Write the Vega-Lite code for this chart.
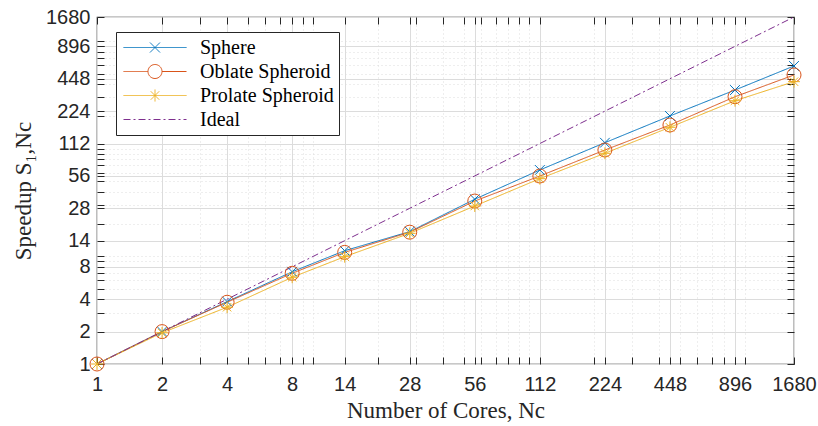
{
  "$schema": "https://vega.github.io/schema/vega-lite/v6.json",
  "width": 697,
  "height": 347,
  "autosize": {"type": "none"},
  "padding": {"left": 97, "top": 17, "right": 24, "bottom": 62},
  "background": "white",
  "config": {
    "view": {"stroke": "#262626", "strokeWidth": 1.2},
    "axis": {
      "labelFont": "Liberation Sans",
      "labelFontSize": 20,
      "labelColor": "#262626",
      "titleFont": "Liberation Serif",
      "titleFontSize": 23,
      "titleFontWeight": "normal",
      "titleColor": "#262626",
      "domain": false,
      "tickColor": "#262626",
      "labelOverlap": false,
      "labelFlush": false,
      "labelBound": false
    }
  },
  "datasets": {
    "speed": [
      {"n": 1, "s": 1, "series": "Sphere"},
      {"n": 2, "s": 2.0, "series": "Sphere"},
      {"n": 4, "s": 3.8, "series": "Sphere"},
      {"n": 8, "s": 7.2, "series": "Sphere"},
      {"n": 14, "s": 11.3, "series": "Sphere"},
      {"n": 28, "s": 17.0, "series": "Sphere"},
      {"n": 56, "s": 34.0, "series": "Sphere"},
      {"n": 112, "s": 63.6, "series": "Sphere"},
      {"n": 224, "s": 114, "series": "Sphere"},
      {"n": 448, "s": 202, "series": "Sphere"},
      {"n": 896, "s": 352, "series": "Sphere"},
      {"n": 1680, "s": 589, "series": "Sphere"},
      {"n": 1, "s": 1, "series": "Oblate Spheroid"},
      {"n": 2, "s": 2.0, "series": "Oblate Spheroid"},
      {"n": 4, "s": 3.75, "series": "Oblate Spheroid"},
      {"n": 8, "s": 6.97, "series": "Oblate Spheroid"},
      {"n": 14, "s": 10.9, "series": "Oblate Spheroid"},
      {"n": 28, "s": 16.8, "series": "Oblate Spheroid"},
      {"n": 56, "s": 32.7, "series": "Oblate Spheroid"},
      {"n": 112, "s": 55.9, "series": "Oblate Spheroid"},
      {"n": 224, "s": 97.5, "series": "Oblate Spheroid"},
      {"n": 448, "s": 166.5, "series": "Oblate Spheroid"},
      {"n": 896, "s": 305, "series": "Oblate Spheroid"},
      {"n": 1680, "s": 486, "series": "Oblate Spheroid"},
      {"n": 1, "s": 1, "series": "Prolate Spheroid"},
      {"n": 2, "s": 1.95, "series": "Prolate Spheroid"},
      {"n": 4, "s": 3.37, "series": "Prolate Spheroid"},
      {"n": 8, "s": 6.4, "series": "Prolate Spheroid"},
      {"n": 14, "s": 9.94, "series": "Prolate Spheroid"},
      {"n": 28, "s": 16.4, "series": "Prolate Spheroid"},
      {"n": 56, "s": 29.4, "series": "Prolate Spheroid"},
      {"n": 112, "s": 52.8, "series": "Prolate Spheroid"},
      {"n": 224, "s": 90.9, "series": "Prolate Spheroid"},
      {"n": 448, "s": 158.6, "series": "Prolate Spheroid"},
      {"n": 896, "s": 280, "series": "Prolate Spheroid"},
      {"n": 1680, "s": 421, "series": "Prolate Spheroid"},
      {"n": 1, "s": 1, "series": "Ideal"},
      {"n": 2, "s": 2, "series": "Ideal"},
      {"n": 4, "s": 4, "series": "Ideal"},
      {"n": 8, "s": 8, "series": "Ideal"},
      {"n": 14, "s": 14, "series": "Ideal"},
      {"n": 28, "s": 28, "series": "Ideal"},
      {"n": 56, "s": 56, "series": "Ideal"},
      {"n": 112, "s": 112, "series": "Ideal"},
      {"n": 224, "s": 224, "series": "Ideal"},
      {"n": 448, "s": 448, "series": "Ideal"},
      {"n": 896, "s": 896, "series": "Ideal"},
      {"n": 1680, "s": 1680, "series": "Ideal"}
    ]
  },
  "data": {"name": "speed"},
  "resolve": {
    "axis": {"x": "independent", "y": "independent"},
    "legend": {"color": "independent", "shape": "independent", "strokeDash": "independent"}
  },
  "layer": [
    {
      "mark": {"type": "line", "strokeWidth": 1, "clip": false},
      "encoding": {
        "x": {
          "field": "n", "type": "quantitative",
          "scale": {"type": "log", "domain": [1, 1680], "nice": false},
          "axis": {
            "title": "Number of Cores, Nc",
            "values": [1,2,3,4,5,6,7,8,9,10,14,20,28,30,40,50,56,60,70,80,90,100,112,200,224,300,400,448,500,600,700,800,896,900,1000,1680],
            "labelExpr": "indexof([1,2,4,8,14,28,56,112,224,448,896,1680], datum.value) >= 0 ? toString(datum.value) : ''",
            "tickSize": -7,
            "labelPadding": 17,
            "titlePadding": 5,
            "gridColor": "#dcdcdc",
            "gridWidth": 1,
            "gridDash": {"condition": {"test": "indexof([1,2,4,8,14,28,56,112,224,448,896,1680], datum.value) < 0", "value": [1, 3]}, "value": []}
          }
        },
        "y": {
          "field": "s", "type": "quantitative",
          "scale": {"type": "log", "domain": [1, 1680], "nice": false},
          "axis": {
            "title": "Speedup S₁,Nc",
            "values": [1,2,3,4,5,6,7,8,9,10,14,20,28,30,40,50,56,60,70,80,90,100,112,200,224,300,400,448,500,600,700,800,896,900,1000,1680],
            "labelExpr": "indexof([1,2,4,8,14,28,56,112,224,448,896,1680], datum.value) >= 0 ? toString(datum.value) : ''",
            "tickSize": -7,
            "labelPadding": 14,
            "titlePadding": 10,
            "gridColor": "#dcdcdc",
            "gridWidth": 1,
            "gridDash": {"condition": {"test": "indexof([1,2,4,8,14,28,56,112,224,448,896,1680], datum.value) < 0", "value": [1, 3]}, "value": []}
          }
        },
        "color": {
          "field": "series", "type": "nominal",
          "scale": {"domain": ["Sphere", "Oblate Spheroid", "Prolate Spheroid", "Ideal"], "range": ["#0072BD", "#D95319", "#EDB120", "#7E2F8E"]},
          "legend": {
            "title": null,
            "orient": "none",
            "legendX": 19,
            "legendY": 15,
            "direction": "vertical",
            "fillColor": "white",
            "strokeColor": "#262626",
            "padding": 5,
            "rowPadding": 3,
            "symbolSize": 400,
            "symbolStrokeWidth": 1,
            "labelFont": "Liberation Serif",
            "labelFontSize": 20,
            "labelColor": "#000000",
            "labelOffset": 58,
            "labelLimit": 300,
            "encode": {
              "symbols": {
                "update": {
                  "shape": {"signal": "datum.value == 'Sphere' ? 'M-3.15,0L3.15,0M-0.5,-0.5L0.5,0.5M-0.5,0.5L0.5,-0.5' : datum.value == 'Oblate Spheroid' ? 'M-3.15,0L-0.7,0M0.7,0L3.15,0M-0.7,0A0.7,0.7,0,1,0,0.7,0A0.7,0.7,0,1,0,-0.7,0' : datum.value == 'Prolate Spheroid' ? 'M-3.15,0L3.15,0M0,-0.6L0,0.6M-0.42,-0.42L0.42,0.42M-0.42,0.42L0.42,-0.42' : 'M-3.15,0L3.15,0'"},
                  "strokeDash": {"signal": "datum.value == 'Ideal' ? [7,3,2,3] : [1,0]"},
                  "fill": {"value": "transparent"},
                  "stroke": {"scale": "color", "field": "value"},
                  "strokeWidth": {"value": 1},
                  "x": {"value": 34}
                }
              }
            }
          }
        },
        "strokeDash": {
          "field": "series", "type": "nominal",
          "scale": {"domain": ["Sphere", "Oblate Spheroid", "Prolate Spheroid", "Ideal"], "range": [[1, 0], [1, 0], [1, 0], [7, 3, 2, 3]]},
          "legend": null
        },
        "order": {"field": "n", "type": "quantitative"}
      }
    },
    {
      "transform": [{"filter": "datum.series != 'Ideal'"}],
      "mark": {"type": "point", "filled": false, "size": 196, "strokeWidth": 1, "opacity": 1, "clip": false},
      "encoding": {
        "x": {
          "field": "n", "type": "quantitative",
          "scale": {"type": "log", "domain": [1, 1680], "nice": false},
          "axis": {
            "orient": "top", "title": null, "labels": false, "grid": false,
            "values": [1,2,3,4,5,6,7,8,9,10,14,20,28,30,40,50,56,60,70,80,90,100,112,200,224,300,400,448,500,600,700,800,896,900,1000,1680],
            "tickSize": -7
          }
        },
        "y": {
          "field": "s", "type": "quantitative",
          "scale": {"type": "log", "domain": [1, 1680], "nice": false},
          "axis": {
            "orient": "right", "title": null, "labels": false, "grid": false,
            "values": [1,2,3,4,5,6,7,8,9,10,14,20,28,30,40,50,56,60,70,80,90,100,112,200,224,300,400,448,500,600,700,800,896,900,1000,1680],
            "tickSize": -7
          }
        },
        "color": {"field": "series", "type": "nominal", "legend": null},
        "shape": {
          "field": "series", "type": "nominal",
          "scale": {"domain": ["Sphere", "Oblate Spheroid", "Prolate Spheroid"], "range": ["M-0.7,-0.7L0.7,0.7M-0.7,0.7L0.7,-0.7", "circle", "M0,-0.85L0,0.85M-0.85,0L0.85,0M-0.6,-0.6L0.6,0.6M-0.6,0.6L0.6,-0.6"]},
          "legend": null
        }
      }
    }
  ]
}
